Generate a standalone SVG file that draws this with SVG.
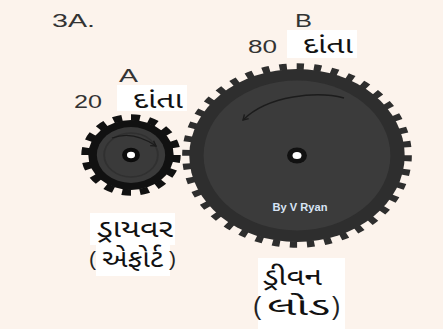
<svg xmlns="http://www.w3.org/2000/svg" width="443" height="329" viewBox="0 0 443 329">
  <style>
    .lat { font-family: "Liberation Sans", Arial, sans-serif; fill: #333; }
    .par { font-family: "Liberation Sans", Arial, sans-serif; fill: #222; }
    .guj { font-family: "Noto Sans Gujarati", "Noto Sans", sans-serif; fill: #111; }
    .box { fill: #fff; }
    .teeth { fill: none; }
    .rot { fill: none; stroke: #1c1c1c; stroke-width: 1.3; marker-end: url(#head); }
  </style>
  <defs>
    <marker id="head" viewBox="0 0 8 8" refX="6" refY="4" markerWidth="8" markerHeight="8" markerUnits="userSpaceOnUse" orient="auto">
      <path d="M1,1 L6,4 L1,7" fill="none" stroke="#1c1c1c" stroke-width="1.4"/>
    </marker>
  </defs>

  <rect width="443" height="329" fill="#fcf3ec"/>

  <text id="title" class="lat" x="52" y="26.5" font-size="19" textLength="43" lengthAdjust="spacingAndGlyphs">3A.</text>

  <!-- driven gear B (large, 40 drawn teeth) -->
  <g id="gear-b">
    <g transform="translate(297,155.5) scale(1.245,1)">
      <circle r="89" class="teeth" stroke="#2e2e2e" stroke-width="6.5" pathLength="80" stroke-dasharray="0.85 1.15"/>
      <circle r="86.5" fill="#2e2e2e"/>
      <circle r="75" fill="#3b3b3b"/>
      <circle r="8" fill="#111"/>
      <circle r="3.6" fill="#fff"/>
    </g>
    <path class="rot" d="M344,98 C318,91 268,95 243,120"/>
    <text x="300" y="211" font-family="Liberation Sans, Arial, sans-serif" font-weight="bold" font-size="10" fill="#d8e4f5" text-anchor="middle" textLength="55" lengthAdjust="spacingAndGlyphs">By V Ryan</text>
  </g>

  <!-- driver gear A (small, 16 teeth) -->
  <g id="gear-a">
    <g transform="translate(131,155) scale(1.22,1)">
      <circle r="37.5" class="teeth" stroke="#111" stroke-width="6.5" pathLength="32" stroke-dasharray="1 1"/>
      <circle r="35" fill="#111"/>
      <circle r="28" fill="#3a3a3a"/>
      <circle r="22" fill="none" stroke="#303030" stroke-width="1.5"/>
      <circle r="7.3" fill="#0c0c0c"/>
      <circle r="3.3" fill="#fff"/>
    </g>
    <path class="rot" d="M112,138 Q133,130 156,146"/>
  </g>

  <!-- tooth-count labels -->
  <g id="label-b">
    <text class="lat" x="295" y="26.5" font-size="19" textLength="17" lengthAdjust="spacingAndGlyphs">B</text>
    <text class="lat" x="248" y="53.3" font-size="19" textLength="29" lengthAdjust="spacingAndGlyphs">80</text>
    <rect class="box" x="287" y="30" width="70" height="28"/>
    <text class="guj" x="303" y="53.3" font-size="23" textLength="50" lengthAdjust="spacingAndGlyphs">દાંતા</text>
  </g>
  <g id="label-a">
    <text class="lat" x="119" y="82" font-size="19" textLength="19" lengthAdjust="spacingAndGlyphs">A</text>
    <text class="lat" x="74" y="108.3" font-size="19" textLength="28" lengthAdjust="spacingAndGlyphs">20</text>
    <rect class="box" x="117" y="85" width="70" height="26"/>
    <text class="guj" x="133" y="108" font-size="23" textLength="50" lengthAdjust="spacingAndGlyphs">દાંતા</text>
  </g>

  <!-- role labels -->
  <g id="label-driver">
    <path class="box" d="M90,213 H175 V245 H170 V276 H96 V245 H90 Z"/>
    <text class="guj" x="97" y="237" font-size="25" textLength="76" lengthAdjust="spacingAndGlyphs">ડ્રાયવર</text>
    <text class="par" x="89" y="266" font-size="21">(</text>
    <text class="guj" x="102" y="267" font-size="25" textLength="61" lengthAdjust="spacingAndGlyphs">એફોર્ટ</text>
    <text class="par" x="169" y="266" font-size="21">)</text>
  </g>
  <g id="label-driven">
    <rect class="box" x="258" y="258" width="87" height="71"/>
    <text class="guj" x="263" y="285" font-size="24" textLength="59" lengthAdjust="spacingAndGlyphs">ડ્રીવન</text>
    <text class="par" x="253" y="315" font-size="25">(</text>
    <text class="guj" x="267" y="315" font-size="25" textLength="63" lengthAdjust="spacingAndGlyphs">લોડ</text>
    <text class="par" x="332" y="315" font-size="25">)</text>
  </g>
</svg>
